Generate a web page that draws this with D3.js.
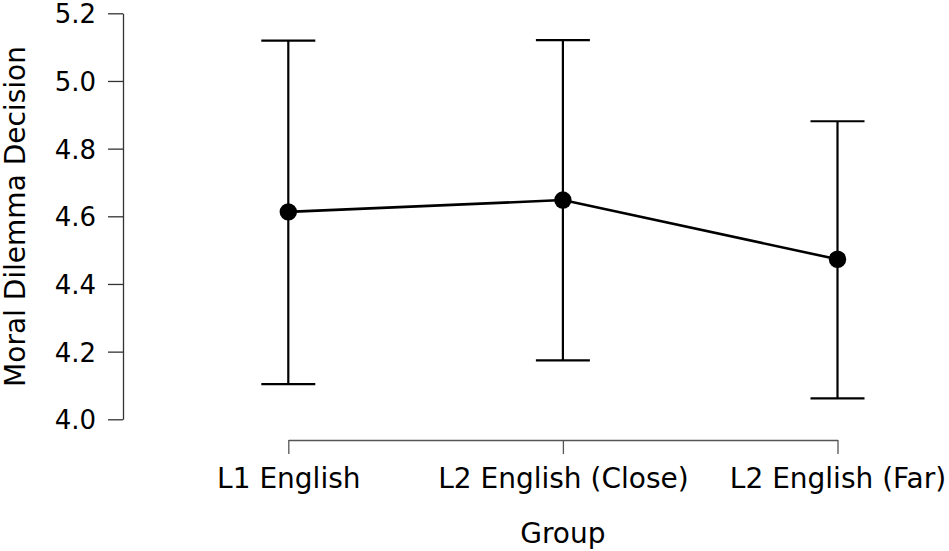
<!DOCTYPE html>
<html>
<head>
<meta charset="utf-8">
<script src="https://cdn.jsdelivr.net/npm/d3@7"></script>
<style>
  html, body { margin: 0; padding: 0; background: #fff; }
  svg { display: block; font-family: "DejaVu Sans", sans-serif; }
</style>
</head>
<body>
<svg id="chart" width="949" height="551"></svg>
<script>
const groups = ["L1 English", "L2 English (Close)", "L2 English (Far)"];
const means  = [4.613, 4.648, 4.473];
const lower  = [4.104, 4.174, 4.062];
const upper  = [5.119, 5.121, 4.881];
const yTicks = [4.0, 4.2, 4.4, 4.6, 4.8, 5.0, 5.2];
const xTitle = "Group";
const yTitle = "Moral Dilemma Decision";

const svg = d3.select("#chart");

const x = d3.scalePoint().domain(groups).range([288.3, 837.5]);
const y = d3.scaleLinear().domain([4.0, 5.2]).range([419.3, 13.3]);

const data = groups.map((g, i) => ({ g, m: means[i], lo: lower[i], hi: upper[i] }));

// Y axis
const yAxis = svg.append("g")
  .attr("transform", "translate(123,0)")
  .call(d3.axisLeft(y).tickValues(yTicks).tickFormat(d3.format(".1f")).tickSize(15).tickSizeOuter(0).tickPadding(12));
yAxis.select(".domain").attr("stroke", "#333").attr("stroke-width", 1.3);
yAxis.selectAll(".tick line").attr("stroke", "#333").attr("stroke-width", 1.3);
yAxis.selectAll(".tick text").attr("font-size", 26).attr("fill", "#000")
  .attr("font-family", "DejaVu Sans").attr("dy", "0.36em");

// X axis
const xAxis = svg.append("g")
  .attr("transform", "translate(0,440)")
  .call(d3.axisBottom(x).tickSize(14).tickSizeOuter(0).tickPadding(14));
xAxis.select(".domain").attr("stroke", "#555").attr("stroke-width", 1.3);
xAxis.selectAll(".tick line").attr("stroke", "#555").attr("stroke-width", 1.3);
xAxis.selectAll(".tick text").attr("font-size", 28).attr("fill", "#000")
  .attr("font-family", "DejaVu Sans").attr("dy", "0.71em");

// Titles
svg.append("text")
  .attr("x", x(groups[1])).attr("y", 543)
  .attr("text-anchor", "middle").attr("font-size", 28).attr("fill", "#000")
  .text(xTitle);
svg.append("text")
  .attr("transform", `translate(25,${(43 + 390) / 2}) rotate(-90)`)
  .attr("text-anchor", "middle").attr("font-size", 28).attr("fill", "#000")
  .text(yTitle);

// Error bars
const eb = svg.append("g").attr("stroke", "#000").attr("stroke-width", 2.2);
eb.selectAll("line.v").data(data).join("line").attr("class", "v")
  .attr("x1", d => x(d.g)).attr("x2", d => x(d.g))
  .attr("y1", d => y(d.lo)).attr("y2", d => y(d.hi));
eb.selectAll("line.top").data(data).join("line").attr("class", "top")
  .attr("x1", d => x(d.g) - 27).attr("x2", d => x(d.g) + 27)
  .attr("y1", d => y(d.hi)).attr("y2", d => y(d.hi));
eb.selectAll("line.bot").data(data).join("line").attr("class", "bot")
  .attr("x1", d => x(d.g) - 27).attr("x2", d => x(d.g) + 27)
  .attr("y1", d => y(d.lo)).attr("y2", d => y(d.lo));

// Line
svg.append("path").datum(data)
  .attr("fill", "none").attr("stroke", "#000").attr("stroke-width", 2.6)
  .attr("d", d3.line().x(d => x(d.g)).y(d => y(d.m)));

// Points
svg.selectAll("circle.pt").data(data).join("circle").attr("class", "pt")
  .attr("cx", d => x(d.g)).attr("cy", d => y(d.m)).attr("r", 8.7)
  .attr("fill", "#000");
</script>
</body>
</html>
